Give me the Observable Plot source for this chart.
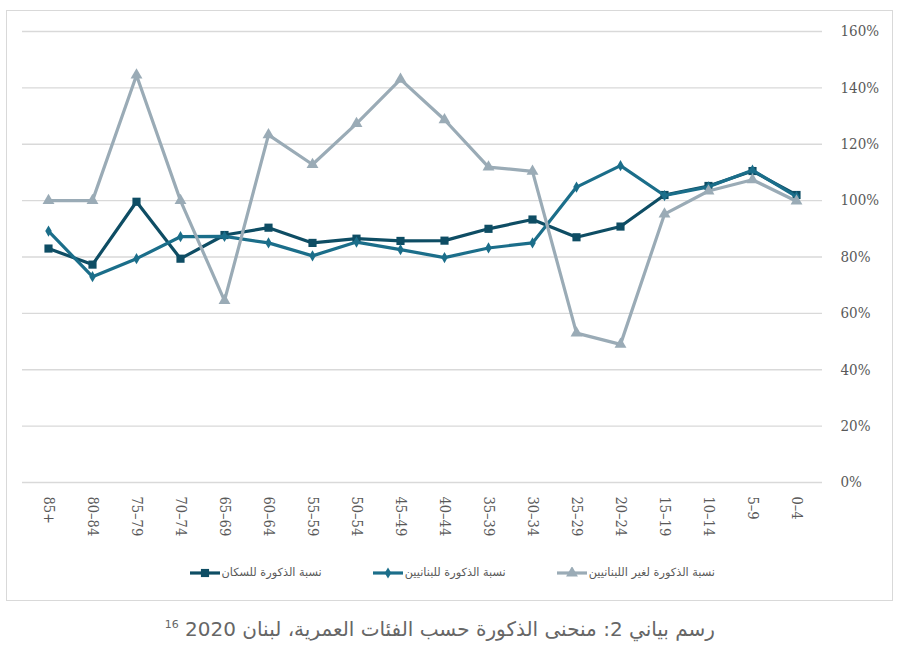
<!DOCTYPE html>
<html><head><meta charset="utf-8">
<script src="https://cdn.jsdelivr.net/npm/d3@7"></script>
<script src="https://cdn.jsdelivr.net/npm/@observablehq/plot@0.6"></script>
<style>
html,body{margin:0;padding:0;background:#fff;}
#wrap{position:relative;width:900px;height:659px;overflow:hidden;}
#frame{position:absolute;left:6px;top:10px;width:887px;height:591px;border:1px solid #d9d9d9;box-sizing:border-box;}
#chart{position:absolute;left:0;top:0;}
#legend{position:absolute;right:185px;top:566px;direction:rtl;display:flex;gap:50px;font-family:"DejaVu Sans",sans-serif;font-size:11.3px;color:#595959;align-items:center;}
#legend .item{display:flex;align-items:center;gap:1px;}
#caption{position:absolute;right:185px;top:617px;direction:rtl;font-family:"DejaVu Sans",sans-serif;font-size:20px;color:#666;white-space:nowrap;}
#caption sup{font-size:11px;}
</style></head>
<body>
<div id="wrap">
<div id="frame"></div>
<div id="chart"></div>
<div id="legend"></div>
<div id="caption">رسم بياني 2: منحنى الذكورة حسب الفئات العمرية، لبنان 2020 <sup>16</sup></div>
</div>
<script>
const ages = ["85+","80–84","75–79","70–74","65–69","60–64","55–59","50–54","45–49","40–44","35–39","30–34","25–29","20–24","15–19","10–14","5–9","0–4"];
const population = [83, 77.3, 99.6, 79.4, 87.8, 90.4, 85, 86.5, 85.7, 85.8, 90, 93.3, 87, 90.8, 102, 105.2, 110.5, 102];
const lebanese = [89.2, 73, 79.4, 87.2, 87.3, 85, 80.4, 85.3, 82.6, 79.8, 83.2, 85, 104.8, 112.4, 101.8, 104.9, 110.8, 101.4];
const nonLebanese = [100, 100, 144.5, 100, 64.5, 123.3, 112.8, 127.3, 143, 128.7, 111.9, 110.4, 53, 49, 95.2, 103.4, 107.4, 99.8];
const yTicks = [0,20,40,60,80,100,120,140,160];
const seriesNames = ["نسبة الذكورة للسكان","نسبة الذكورة للبنانيين","نسبة الذكورة لغير اللبنانيين"];
const seriesColors = ["#0e4d64","#1b6e8a","#9aabb6"];
const seriesSymbols = ["square","diamond","triangle"];
const seriesR = [4.6, 3.4, 4.4];

const allSeries = [population, lebanese, nonLebanese];
const marks = [
  Plot.gridY(yTicks, {stroke:"#d9d9d9", strokeOpacity:1, strokeWidth:1.3}),
  Plot.axisY(yTicks, {anchor:"right", tickSize:0, tickPadding:18, tickFormat:d=>d+"%", fontSize:15, fill:"#595959", fontFamily:"DejaVu Serif Condensed, DejaVu Serif, serif"}),
  Plot.axisX({tickRotate:90, tickSize:0, tickPadding:14, fontSize:14.5, fill:"#595959", fontFamily:"DejaVu Serif Condensed, DejaVu Serif, serif"})
];
allSeries.forEach((vals, s) => {
  const rows = ages.map((a,i)=>({age:a, v:vals[i]}));
  marks.push(Plot.line(rows, {x:"age", y:"v", stroke:seriesColors[s], strokeWidth:3.2}));
  marks.push(Plot.dot(rows, {x:"age", y:"v", symbol:seriesSymbols[s], fill:seriesColors[s], r:seriesR[s]}));
});
const chart = Plot.plot({
  width:900, height:560, marginTop:31, marginBottom:78, marginLeft:22, marginRight:78,
  style:{background:"transparent", fontSize:"16px", color:"#595959"},
  x:{type:"point", domain:ages, padding:0.5, label:null},
  y:{domain:[0,160], label:null},
  marks
});
document.getElementById("chart").appendChild(chart);

const legend = document.getElementById("legend");
[2,1,0].forEach(s => {
  const item = document.createElement("div");
  item.className = "item";
  const t = document.createElement("span");
  t.textContent = seriesNames[s];
  const sw = document.createElementNS("http://www.w3.org/2000/svg","svg");
  sw.setAttribute("width","32"); sw.setAttribute("height","12");
  const sym = d3.symbol().type(s===0?d3.symbolSquare:s===1?d3.symbolDiamond:d3.symbolTriangle).size(Math.PI*seriesR[s]*seriesR[s]);
  sw.innerHTML = `<line x1="1" x2="31" y1="6" y2="6" stroke="${seriesColors[s]}" stroke-width="3.2"/><path transform="translate(16,6)" d="${sym()}" fill="${seriesColors[s]}"/>`;
  item.appendChild(t); item.appendChild(sw);
  legend.appendChild(item);
});
</script>
</body></html>
